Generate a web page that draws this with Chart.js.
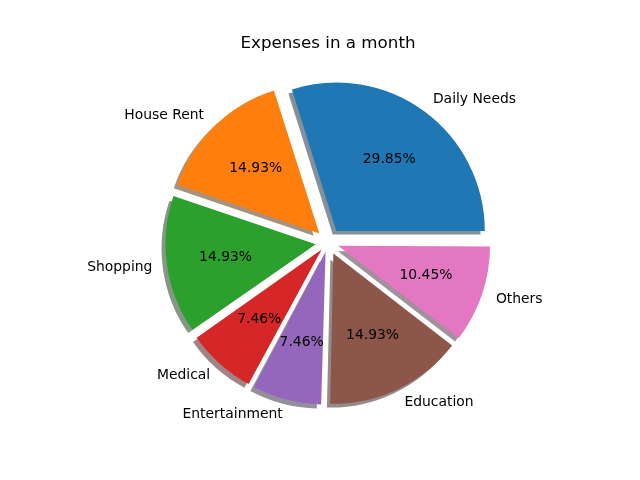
<!DOCTYPE html>
<html>
<head>
<meta charset="utf-8">
<script src="https://cdn.jsdelivr.net/npm/chart.js@4/dist/chart.umd.min.js"></script>
<style>
  html, body { margin: 0; padding: 0; background: #fff; }
  #wrap { width: 640px; height: 480px; }
</style>
</head>
<body>
<div id="wrap"><canvas id="c" width="640" height="480"></canvas></div>
<script>
// Data (matplotlib order: counter-clockwise from 3 o'clock)
const categories = ['Daily Needs', 'House Rent', 'Shopping', 'Medical', 'Entertainment', 'Education', 'Others'];
const values = [20, 10, 10, 5, 5, 10, 7];
const colors = ['#1f77b4', '#ff7f0e', '#2ca02c', '#d62728', '#9467bd', '#8c564b', '#e377c2'];
const chartTitle = 'Expenses in a month';

const RADIUS = 147.8;
const EXPLODE = 0.1 * RADIUS;
const SHADOW_DX = -4, SHADOW_DY = 4;
const total = values.reduce((a, b) => a + b, 0);

// Chart.js draws clockwise; reverse to mimic matplotlib's counter-clockwise order
const revLabels = categories.slice().reverse();
const revValues = values.slice().reverse();
const revColors = colors.slice().reverse();

function shadowColor(hex) {
  const r = parseInt(hex.slice(1, 3), 16), g = parseInt(hex.slice(3, 5), 16), b = parseInt(hex.slice(5, 7), 16);
  return 'rgba(' + Math.round(r * 0.3) + ',' + Math.round(g * 0.3) + ',' + Math.round(b * 0.3) + ',0.5)';
}

function explodeCenter(el) {
  const h = (el.startAngle + el.endAngle) / 2;
  return { x: el.x + Math.cos(h) * EXPLODE, y: el.y + Math.sin(h) * EXPLODE, h: h };
}

const piePlugin = {
  id: 'mplPie',
  beforeDatasetsDraw(chart) {
    const ctx = chart.ctx;
    const meta = chart.getDatasetMeta(0);
    meta.data.forEach((el, i) => {
      const c = explodeCenter(el);
      ctx.save();
      ctx.fillStyle = shadowColor(revColors[i]);
      ctx.beginPath();
      ctx.moveTo(c.x + SHADOW_DX, c.y + SHADOW_DY);
      ctx.arc(c.x + SHADOW_DX, c.y + SHADOW_DY, el.outerRadius, el.startAngle, el.endAngle);
      ctx.closePath();
      ctx.fill();
      ctx.restore();
    });
  },
  afterDatasetsDraw(chart) {
    const ctx = chart.ctx;
    const meta = chart.getDatasetMeta(0);
    ctx.save();
    ctx.fillStyle = '#000';
    ctx.font = '13.9px "DejaVu Sans"';
    ctx.textBaseline = 'middle';
    meta.data.forEach((el, i) => {
      const c = explodeCenter(el);
      const r = el.outerRadius;
      const lx = c.x + 1.1 * r * Math.cos(c.h);
      const ly = c.y + 1.1 * r * Math.sin(c.h);
      ctx.textAlign = lx > el.x ? 'left' : 'right';
      ctx.fillText(revLabels[i], lx, ly);
      const px = c.x + 0.6 * r * Math.cos(c.h);
      const py = c.y + 0.6 * r * Math.sin(c.h);
      ctx.textAlign = 'center';
      ctx.fillText((revValues[i] / total * 100).toFixed(2) + '%', px, py);
    });
    ctx.restore();
  }
};

new Chart(document.getElementById('c'), {
  type: 'pie',
  data: {
    labels: revLabels,
    datasets: [{
      data: revValues,
      backgroundColor: revColors,
      borderWidth: 0,
      offset: (ctx) => {
        const circ = ctx.parsed / total * 2 * Math.PI;
        const fix = 1 - Math.sin(Math.min(Math.PI, circ));
        return 4 * EXPLODE / (1 + fix);
      }
    }]
  },
  options: {
    responsive: false,
    animation: false,
    events: [],
    rotation: 90,
    radius: RADIUS,
    layout: { padding: { left: 16, right: 0, top: 0, bottom: 49.2 } },
    plugins: {
      legend: { display: false },
      tooltip: { enabled: false },
      title: {
        display: true,
        text: chartTitle,
        color: '#000',
        font: { family: 'DejaVu Sans', size: 16.7, weight: 'normal', lineHeight: 1.2 },
        padding: { top: 34, bottom: 0 }
      }
    }
  },
  plugins: [piePlugin]
});
</script>
</body>
</html>
